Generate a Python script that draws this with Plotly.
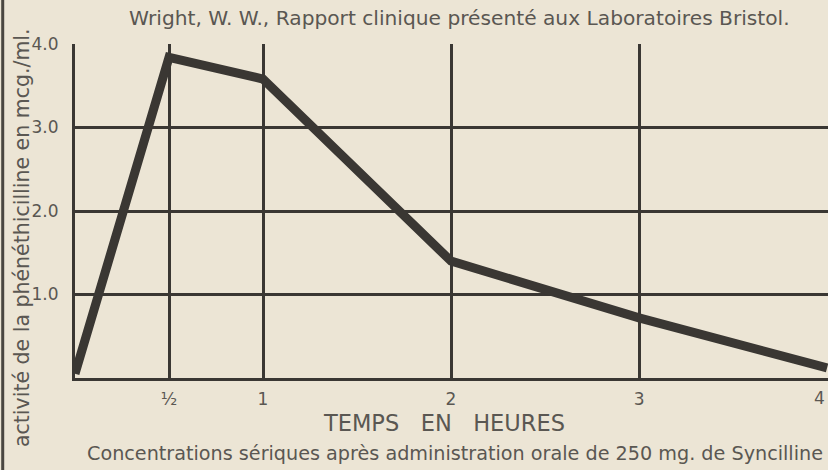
import plotly.graph_objects as go

# serum concentration (mcg/ml) vs time (hours)
hours = [0, 0.5, 1, 2, 3, 4]
activity = [0.05, 3.84, 3.58, 1.4, 0.72, 0.12]

xTickVals = [0.5, 1, 2, 3, 4]
xTickText = ['½', '1', '2', '3', '4']
yTickVals = [1, 2, 3, 4]
yTickText = ['1.0', '2.0', '3.0', '4.0']

paper = '#ECE5D5'
ink = '#3a3733'
textGrey = '#5a5752'
face = 'DejaVu Sans'

fig = go.Figure()
fig.add_trace(go.Scatter(x=hours, y=activity, mode='lines',
                         line=dict(color=ink, width=9), showlegend=False,
                         hoverinfo='skip'))

# last tick sits on the page edge, so it is put in by hand below (no grid line there)
fig.update_xaxes(range=[0, 4.005], tickvals=xTickVals[:-1], ticktext=xTickText[:-1],
                 showgrid=True, gridcolor=ink, gridwidth=2.5,
                 showline=True, linecolor=ink, linewidth=3,
                 zeroline=False, ticks='outside', ticklen=4, tickcolor=paper,
                 automargin=False,
                 tickfont=dict(family=face, size=17, color=textGrey))
fig.update_yaxes(range=[0, 4], tickvals=yTickVals, ticktext=yTickText,
                 showgrid=True, gridcolor=ink, gridwidth=2.5,
                 showline=True, linecolor=ink, linewidth=3, mirror=True,
                 zeroline=False, ticks='outside', ticklen=10, tickcolor=paper,
                 automargin=False,
                 tickfont=dict(family=face, size=17, color=textGrey))

fig.add_annotation(text=xTickText[-1], xref='x', yref='paper', x=xTickVals[-1], y=0,
                   yshift=-20, showarrow=False, xanchor='right', yanchor='middle',
                   font=dict(family=face, size=17, color=textGrey))

fig.add_annotation(text='Wright, W. W., Rapport clinique présenté aux Laboratoires Bristol.',
                   xref='paper', yref='paper', x=0.51, y=1.0, yshift=26,
                   showarrow=False, xanchor='center', yanchor='middle',
                   font=dict(family=face, size=20.2, color=textGrey))
fig.add_annotation(text='activité de la phénéthicilline en mcg./ml.',
                   xref='paper', yref='paper', x=0, xshift=-53, y=0.5, yshift=-27,
                   textangle=-90, showarrow=False, xanchor='center', yanchor='middle',
                   font=dict(family=face, size=20.5, color=textGrey))
fig.add_annotation(text='TEMPS   EN   HEURES',
                   xref='paper', yref='paper', x=0.49, y=0, yshift=-45,
                   showarrow=False, xanchor='center', yanchor='middle',
                   font=dict(family=face, size=22.5, color=textGrey))
fig.add_annotation(text='Concentrations sériques après administration orale de 250 mg. de Syncilline',
                   xref='paper', yref='paper', x=0.505, y=0, yshift=-75,
                   showarrow=False, xanchor='center', yanchor='middle',
                   font=dict(family=face, size=19.2, color=textGrey))

# scan edge on the left
fig.add_shape(type='line', xref='paper', yref='paper', x0=-0.096, x1=-0.096,
              y0=-0.3, y1=1.15, line=dict(color='#4a4640', width=3))

fig.update_layout(width=828, height=470, paper_bgcolor=paper, plot_bgcolor=paper,
                  margin=dict(l=75, r=0, t=44, b=92))

# page body margin would push the figure 8px off the window
fig.write_html('out.html', config={'displayModeBar': False},
               post_script="document.body.style.margin='0';")
